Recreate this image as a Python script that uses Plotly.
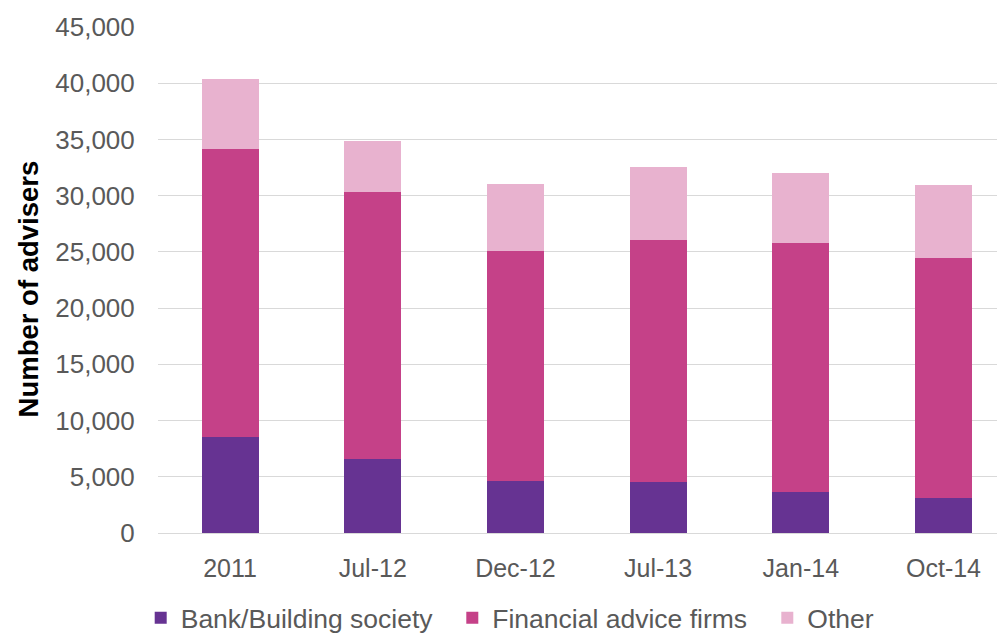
import plotly.graph_objects as go

categories = ["2011", "Jul-12", "Dec-12", "Jul-13", "Jan-14", "Oct-14"]
bank_building = [8500, 6600, 4650, 4550, 3650, 3100]
financial_advice = [25650, 23700, 20450, 21550, 22100, 21400]
other = [6250, 4600, 5900, 6450, 6250, 6450]

series_names = ["Bank/Building society", "Financial advice firms", "Other"]
series_values = [bank_building, financial_advice, other]
series_colors = ["#663392", "#C54188", "#E8B2CF"]
legend_ids = ["legend", "legend2", "legend3"]

font_family = "Liberation Sans, Arial, sans-serif"
OFF = 8            # page offset of the figure inside the screenshot
L, T, B = 150, 18.5, 98.5
W, H = 1005, 634
plot_h = 508
plot_w = W - L

fig = go.Figure()
for name, vals, color, lg in zip(series_names, series_values, series_colors, legend_ids):
    fig.add_trace(go.Bar(
        x=categories, y=vals, name=name, legend=lg, showlegend=True,
        marker=dict(color=color, line=dict(width=0)),
    ))

def px_to_paper_x(sx):
    return (sx - OFF - L) / plot_w

def px_to_paper_y(sy):
    return 1 - (sy - OFF - T) / plot_h

legend_text_starts = [177.7, 489.3, 804.3]
legend_common = dict(
    orientation="h",
    yanchor="middle", xanchor="left",
    font=dict(size=26.5, color="#595959"),
    itemwidth=30,
    bgcolor="rgba(0,0,0,0)",
)
legends = {}
for lg, ts in zip(legend_ids, legend_text_starts):
    legends[lg] = dict(legend_common, x=px_to_paper_x(ts - 37), y=px_to_paper_y(620))

fig.update_layout(
    showlegend=True,
    barmode="stack",
    bargap=0.6,
    width=W, height=H,
    margin=dict(l=L, r=0, t=T, b=B),
    paper_bgcolor="white",
    plot_bgcolor="white",
    font=dict(family=font_family, size=25, color="#595959"),
    xaxis=dict(
        range=[-0.505, 5.487],
        automargin=False,
        showgrid=False,
        ticks="outside", ticklen=13, tickcolor="rgba(0,0,0,0)",
        tickfont=dict(size=25, color="#595959"),
        showline=False,
    ),
    yaxis=dict(
        range=[0, 45000],
        automargin=False,
        dtick=5000,
        tickformat=",d",
        showgrid=True, gridcolor="#D9D9D9", gridwidth=1,
        zeroline=True, zerolinecolor="#D9D9D9", zerolinewidth=1,
        ticks="outside", ticklen=17, tickcolor="rgba(0,0,0,0)",
        tickfont=dict(size=26, color="#595959"),
    ),
    annotations=[dict(
        text="<b>Number of advisers</b>",
        textangle=-90,
        xref="paper", yref="paper",
        x=px_to_paper_x(28), y=px_to_paper_y(290),
        xanchor="center", yanchor="middle",
        showarrow=False,
        font=dict(family=font_family, size=27.5, color="#000000"),
    )],
    **legends,
)

fig.write_html("out.html")
